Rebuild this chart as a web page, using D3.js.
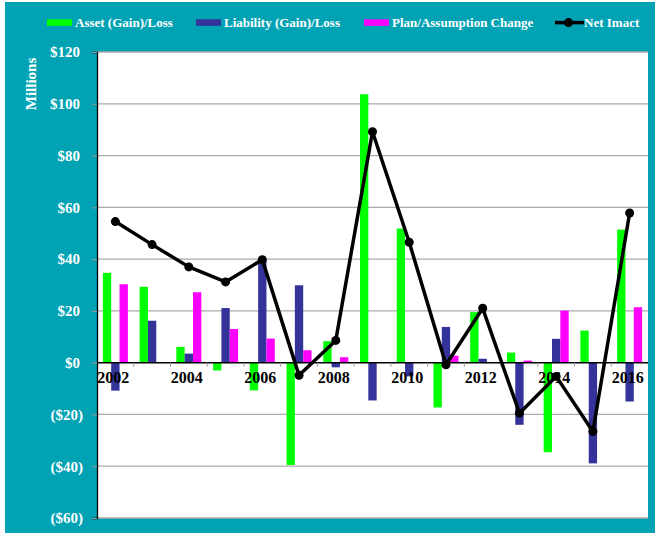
<!DOCTYPE html>
<html>
<head>
<meta charset="utf-8">
<script src="https://cdn.jsdelivr.net/npm/d3@7"></script>
<style>
  body { margin: 0; background: #fff; }
  text { font-family: "Liberation Serif", "Times New Roman", serif; font-weight: bold; }
</style>
</head>
<body>
<div class="box"></div>
<script>
// DATA
const years = ['2002', '2003', '2004', '2005', '2006', '2007', '2008', '2009',
               '2010', '2011', '2012', '2013', '2014', '2015', '2016'];
const assetLoss = [34.7, 29.3, 6.1, -3.0, -10.7, -39.5, 8.3, 103.7, 51.8, -17.3, 19.5, 3.9, -34.6, 12.4, 51.4];
const liabilityLoss = [-10.8, 16.2, 3.5, 21.1, 39.8, 29.9, -1.8, -14.6, -5.3, 13.8, 1.5, -24.0, 9.2, -38.9, -15.0];
const planChange = [30.3, 0, 27.2, 13.0, 9.3, 4.8, 2.1, 0, 0, 2.7, 0, 0.8, 20.1, 0, 21.4];
const netImpact = [54.5, 45.6, 37.0, 31.2, 39.8, -4.9, 8.6, 89.2, 46.5, -0.8, 21.0, -19.5, -5.3, -26.6, 57.8];
const yTicks = [120, 100, 80, 60, 40, 20, 0, -20, -40, -60];
const xLabels = ['2002', '2004', '2006', '2008', '2010', '2012', '2014', '2016'];

const seriesNames = ['Asset (Gain)/Loss', 'Liability (Gain)/Loss', 'Plan/Assumption Change'];
const seriesColors = ['#00ff00', '#333399', '#ff00ff'];
const seriesValues = [assetLoss, liabilityLoss, planChange];

// SETUP
const W = 656, H = 535;
const svg = d3.select('.box')
              .append('svg')
              .attr('width', W)
              .attr('height', H);

// teal frame
svg.append('rect')
   .attr('x', 5).attr('y', 2)
   .attr('width', 650).attr('height', 531)
   .attr('fill', '#01a2b3');

const plot = {left: 97, top: 52, right: 648, bottom: 518};

const y = d3.scaleLinear()
            .domain([-60, 120])
            .range([plot.bottom, plot.top]);

const x = d3.scaleBand()
            .domain(years)
            .range([plot.left, plot.right]);

// three bars side by side, centred in each year
const groupW = 25;
const x1 = d3.scaleBand()
             .domain([0, 1, 2])
             .range([0, groupW]);

// white plot area
svg.append('rect')
   .attr('x', plot.left).attr('y', plot.top)
   .attr('width', plot.right - plot.left)
   .attr('height', plot.bottom - plot.top)
   .attr('fill', '#fff');

// gridlines
svg.append('g')
   .selectAll('line')
   .data(yTicks.filter(d => d !== 0))
   .enter().append('line')
   .attr('x1', plot.left).attr('x2', plot.right)
   .attr('y1', d => y(d)).attr('y2', d => y(d))
   .attr('stroke', '#aaaaaa')
   .attr('stroke-width', 1.3);

// y axis
const axeY = d3.axisLeft(y)
               .tickValues(yTicks)
               .tickSize(5)
               .tickFormat(d => d < 0 ? `($${-d})` : `$${d}`);
const groupeY = svg.append('g')
                   .attr('transform', `translate(${plot.left}, 0)`)
                   .call(axeY);
groupeY.select('.domain').attr('stroke', '#000').attr('stroke-width', 1.3);
groupeY.selectAll('.tick line').attr('stroke', '#999');
groupeY.selectAll('.tick text')
       .attr('x', d => d < 0 ? -14 : -17)
       .attr('fill', '#fff')
       .style('font-size', '15px');

// y title
svg.append('text')
   .text('Millions')
   .attr('transform', 'translate(36, 84) rotate(-90)')
   .attr('text-anchor', 'middle')
   .attr('fill', '#fff')
   .style('font-size', '15px');

// bars
seriesValues.forEach((vals, s) => {
  svg.append('g')
     .selectAll('rect')
     .data(vals)
     .enter().append('rect')
     .attr('x', (d, i) => x(years[i]) + (x.bandwidth() - groupW) / 2 + x1(s))
     .attr('y', d => y(Math.max(0, d)))
     .attr('width', x1.bandwidth())
     .attr('height', d => Math.abs(y(d) - y(0)))
     .attr('fill', seriesColors[s]);
});

// x axis (zero line with ticks at category boundaries)
svg.append('line')
   .attr('x1', plot.left).attr('x2', plot.right)
   .attr('y1', y(0)).attr('y2', y(0))
   .attr('stroke', '#000').attr('stroke-width', 1.5);

svg.append('g')
   .selectAll('line')
   .data(years.slice(1))
   .enter().append('line')
   .attr('x1', d => x(d)).attr('x2', d => x(d))
   .attr('y1', y(0)).attr('y2', y(0) + 4)
   .attr('stroke', '#999');

svg.append('g')
   .selectAll('text')
   .data(xLabels)
   .enter().append('text')
   .text(d => d)
   .attr('x', d => x(d) + x.bandwidth() / 2 - 2)
   .attr('y', y(0) + 20)
   .attr('text-anchor', 'middle')
   .attr('fill', '#000')
   .style('font-size', '16px');

// net impact line
const line = d3.line()
               .x((d, i) => x(years[i]) + x.bandwidth() / 2)
               .y(d => y(d));

svg.append('path')
   .datum(netImpact)
   .attr('d', line)
   .attr('fill', 'none')
   .attr('stroke', '#000')
   .attr('stroke-width', 3.5)
   .attr('stroke-linejoin', 'round');

svg.append('g')
   .selectAll('circle')
   .data(netImpact)
   .enter().append('circle')
   .attr('cx', (d, i) => x(years[i]) + x.bandwidth() / 2)
   .attr('cy', d => y(d))
   .attr('r', 4.5)
   .attr('fill', '#000');

// legend
const legendItems = [
  {name: seriesNames[0], color: seriesColors[0], x: 47},
  {name: seriesNames[1], color: seriesColors[1], x: 196},
  {name: seriesNames[2], color: seriesColors[2], x: 364}
];
const legend = svg.append('g');
legendItems.forEach(item => {
  legend.append('rect')
        .attr('x', item.x).attr('y', 19.3)
        .attr('width', 25).attr('height', 6.5)
        .attr('fill', item.color);
  legend.append('text')
        .text(item.name)
        .attr('x', item.x + 28).attr('y', 27)
        .attr('fill', '#fff')
        .style('font-size', '13px');
});
legend.append('line')
      .attr('x1', 555).attr('x2', 584)
      .attr('y1', 22.6).attr('y2', 22.6)
      .attr('stroke', '#000').attr('stroke-width', 3.5);
legend.append('circle')
      .attr('cx', 568.5).attr('cy', 22.6).attr('r', 4.5)
      .attr('fill', '#000');
legend.append('text')
      .text('Net Imact')
      .attr('x', 584).attr('y', 27)
      .attr('fill', '#fff')
      .style('font-size', '13px');
</script>
</body>
</html>
